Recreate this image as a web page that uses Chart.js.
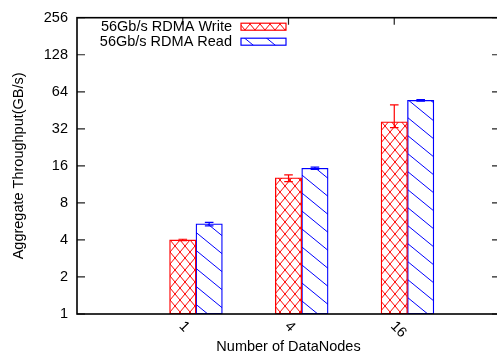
<!DOCTYPE html>
<html>
<head>
<meta charset="utf-8">
<script src="https://cdn.jsdelivr.net/npm/chart.js@4.4.1/dist/chart.umd.min.js"></script>
<style>
  html, body { margin: 0; padding: 0; background: #fff; overflow: hidden; }
  #zone-graphique { width: 500px; height: 356px; }
</style>
</head>
<body>
<div id="zone-graphique"><canvas id="graphiqueDebit" width="500" height="356"></canvas></div>
<script>
// ==========================================================
// DONNEES
// ==========================================================
const noeuds = ["1", "4", "16"];
const debitEcriture = [4.0, 12.8, 36.5];
const ecritureMin = [3.95, 11.9, 32.7];
const ecritureMax = [4.05, 13.5, 50.0];
const debitLecture = [5.4, 15.3, 54.5];
const lectureMin = [5.2, 15.0, 53.8];
const lectureMax = [5.55, 15.6, 55.2];
const ticksY = [1, 2, 4, 8, 16, 32, 64, 128, 256];

const POLICE = "'Liberation Sans', Arial, Helvetica, sans-serif";
const TAILLE = 14.5;
const DECALAGE = 0.125; // demi-largeur de barre, en unités de l'axe x

// ==========================================================
// MOTIFS DE REMPLISSAGE (style gnuplot)
// ==========================================================
function motifCroise(couleur) {
  const c = document.createElement("canvas");
  c.width = 10; c.height = 12;
  const ctx = c.getContext("2d");
  ctx.fillStyle = "#fff";
  ctx.fillRect(0, 0, 10, 12);
  ctx.strokeStyle = couleur;
  ctx.lineWidth = 1;
  ctx.beginPath();
  for (let k = -1; k <= 1; k++) {
    ctx.moveTo(k * 10, 0); ctx.lineTo(10 + k * 10, 12);
    ctx.moveTo(10 + k * 10, 0); ctx.lineTo(k * 10, 12);
  }
  ctx.stroke();
  return ctx.createPattern(c, "repeat");
}

function motifHachure(couleur) {
  const w = 22, h = 18;
  const c = document.createElement("canvas");
  c.width = w; c.height = h;
  const ctx = c.getContext("2d");
  ctx.fillStyle = "#fff";
  ctx.fillRect(0, 0, w, h);
  ctx.strokeStyle = couleur;
  ctx.lineWidth = 1;
  ctx.beginPath();
  for (let k = -1; k <= 1; k++) {
    ctx.moveTo(0, k * h); ctx.lineTo(w, h + k * h);
  }
  ctx.stroke();
  return ctx.createPattern(c, "repeat");
}

// ==========================================================
// DECOR : graduations internes, barres d'erreur, cadre, légende
// ==========================================================
const decor = {
  id: "decor",
  beforeDatasetsDraw(chart) {
    const { ctx, chartArea: a, scales } = chart;
    ctx.save();
    ctx.strokeStyle = "#222";
    ctx.lineWidth = 1.2;
    ctx.beginPath();
    ticksY.forEach(v => {
      const y = scales.y.getPixelForValue(v);
      ctx.moveTo(a.left, y); ctx.lineTo(a.left + 8, y);
      ctx.moveTo(a.right, y); ctx.lineTo(a.right - 8, y);
    });
    noeuds.forEach((n, i) => {
      const x = scales.x.getPixelForValue(i);
      ctx.moveTo(x, a.top); ctx.lineTo(x, a.top + 7);
      ctx.moveTo(x, a.bottom); ctx.lineTo(x, a.bottom - 7);
    });
    ctx.stroke();
    ctx.restore();
  },
  afterDatasetsDraw(chart) {
    const { ctx, chartArea: a, scales } = chart;
    const erreurs = [[ecritureMin, ecritureMax], [lectureMin, lectureMax]];
    ctx.save();

    // barres d'erreur
    chart.data.datasets.forEach((ds, d) => {
      const meta = chart.getDatasetMeta(d);
      ctx.strokeStyle = ds.borderColor;
      ctx.lineWidth = 1.2;
      meta.data.forEach((barre, i) => {
        const x = barre.x;
        const yBas = scales.y.getPixelForValue(erreurs[d][0][i]);
        const yHaut = scales.y.getPixelForValue(erreurs[d][1][i]);
        ctx.beginPath();
        ctx.moveTo(x, yBas); ctx.lineTo(x, yHaut);
        ctx.moveTo(x - 4.3, yBas); ctx.lineTo(x + 4.3, yBas);
        ctx.moveTo(x - 4.3, yHaut); ctx.lineTo(x + 4.3, yHaut);
        ctx.stroke();
      });
    });

    // cadre
    ctx.strokeStyle = "#000";
    ctx.lineWidth = 1.6;
    ctx.strokeRect(a.left, a.top, a.right - a.left, a.bottom - a.top);

    // étiquettes x inclinées
    ctx.fillStyle = "#000";
    ctx.font = TAILLE + "px " + POLICE;
    ctx.textAlign = "left";
    ctx.textBaseline = "middle";
    noeuds.forEach((n, i) => {
      const x = scales.x.getPixelForValue(i);
      ctx.save();
      ctx.translate(x - 1.5, a.bottom + 10);
      ctx.rotate(Math.PI / 4);
      ctx.fillText(n, 0, 0);
      ctx.restore();
    });

    // légende
    ctx.textAlign = "right";
    chart.data.datasets.forEach((ds, d) => {
      const y = 26.7 + d * 15;
      ctx.fillStyle = "#000";
      ctx.fillText(ds.label, 232, y);
      ctx.fillStyle = ds.backgroundColor;
      ctx.fillRect(241, y - 3.5, 45, 7);
      ctx.strokeStyle = ds.borderColor;
      ctx.lineWidth = 1.2;
      ctx.strokeRect(241, y - 3.5, 45, 7);
    });
    ctx.restore();
  }
};

// ==========================================================
// GRAPHIQUE
// ==========================================================
const monGraphiqueInstance = new Chart(document.getElementById("graphiqueDebit").getContext("2d"), {
  type: "bar",
  data: {
    datasets: [
      {
        label: "56Gb/s RDMA Write",
        data: noeuds.map((n, i) => ({ x: i + DECALAGE, y: debitEcriture[i] })),
        backgroundColor: motifCroise("#ff0000"),
        borderColor: "#ff0000",
        borderWidth: 1.3,
        borderSkipped: false,
        barThickness: 26.4
      },
      {
        label: "56Gb/s RDMA Read",
        data: noeuds.map((n, i) => ({ x: i + DECALAGE, y: debitLecture[i] })),
        backgroundColor: motifHachure("#0000ff"),
        borderColor: "#0000ff",
        borderWidth: 1.3,
        borderSkipped: false,
        barThickness: 26.4
      }
    ]
  },
  options: {
    responsive: false,
    animation: false,
    layout: { padding: { top: 12, right: 0, bottom: 0, left: 0 } },
    plugins: { legend: { display: false }, tooltip: { enabled: false } },
    scales: {
      x: {
        type: "linear",
        min: -1,
        max: 3,
        offset: false,
        grid: { display: false, drawTicks: false },
        border: { display: false },
        ticks: { display: false },
        title: {
          display: true,
          text: "Number of DataNodes",
          color: "#000",
          font: { family: POLICE, size: TAILLE },
          padding: { top: 0, bottom: 0 }
        },
        afterFit(s) { s.height = 42; }
      },
      y: {
        type: "logarithmic",
        min: 1,
        max: 256,
        grid: { display: false, drawTicks: false },
        border: { display: false },
        ticks: {
          padding: 9,
          color: "#000",
          font: { family: POLICE, size: TAILLE },
          callback: v => String(v)
        },
        afterBuildTicks(s) { s.ticks = ticksY.map(v => ({ value: v })); },
        title: {
          display: true,
          text: "Aggregate Throughput(GB/s)",
          color: "#000",
          font: { family: POLICE, size: TAILLE },
          padding: { top: 10, bottom: 0 }
        },
        afterFit(s) { s.width = 77; }
      }
    }
  },
  plugins: [decor]
});
</script>
</body>
</html>
